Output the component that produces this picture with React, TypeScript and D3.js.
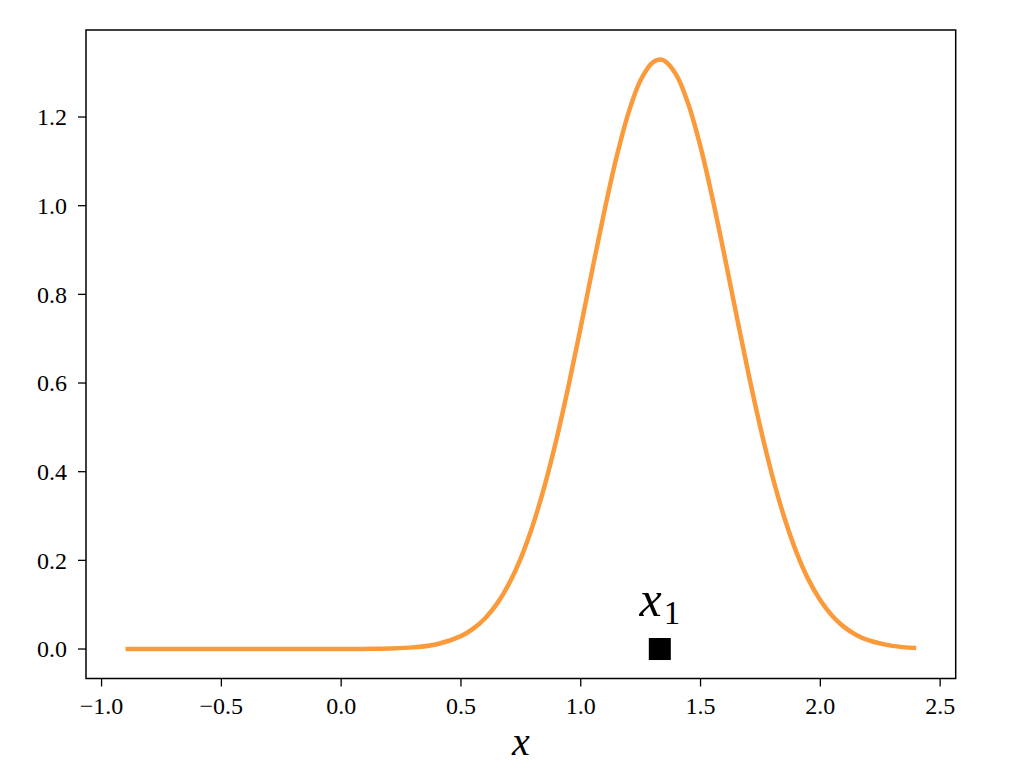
import React from "react";
import * as d3 from "d3";

const xValues = [
  -0.9, -0.8, -0.7, -0.6, -0.5, -0.4, -0.3, -0.2, -0.1, 0.0, 0.1, 0.2, 0.3, 0.4, 0.5, 0.55,
  0.6, 0.65, 0.7, 0.75, 0.8, 0.85, 0.9, 0.95, 1.0, 1.05, 1.1, 1.15, 1.2, 1.25, 1.3, 1.33,
  1.35, 1.4, 1.45, 1.5, 1.55, 1.6, 1.65, 1.7, 1.75, 1.8, 1.85, 1.9, 1.95, 2.0, 2.05, 2.1,
  2.15, 2.2, 2.3, 2.4,
];
const yValues = [
  0, 0, 0, 0, 0, 0, 0, 0, 0, 0.0001, 0.0003, 0.0011, 0.0037, 0.0109, 0.029, 0.0453,
  0.0689, 0.1019, 0.1467, 0.2052, 0.2793, 0.3697, 0.4761, 0.5962, 0.7262, 0.8602, 0.9912, 1.1108, 1.2106, 1.2834, 1.3232, 1.3298,
  1.3269, 1.2941, 1.2276, 1.1326, 1.0162, 0.887, 0.7528, 0.6215, 0.4991, 0.3898, 0.2961, 0.2187, 0.1571, 0.1098, 0.0746, 0.0494,
  0.0317, 0.0198, 0.0071, 0.0023,
];
const markerX = [1.33];
const markerY = [0];
const markerLabel = "x";
const markerSub = "1";
const xTicks = [-1.0, -0.5, 0.0, 0.5, 1.0, 1.5, 2.0, 2.5];
const yTicks = [0.0, 0.2, 0.4, 0.6, 0.8, 1.0, 1.2];
const xLabel = "x";

const W = 1024;
const H = 778;
const L = 86, R = 955.7, T = 30, B = 678.5;
const FONT = "'Liberation Serif', 'DejaVu Serif', serif";
const ORANGE = "#fb9a3b";

const fmt = (v: number) => {
  const s = Math.abs(v).toFixed(1);
  return v < 0 ? "\u2212" + s : s;
};

export default function App() {
  const x = d3.scaleLinear().domain([-1.065, 2.565]).range([L, R]);
  const y = d3.scaleLinear().domain([-0.0665, 1.3963]).range([B, T]);
  const pts: [number, number][] = xValues.map((v, i) => [v, yValues[i]]);
  const line = d3
    .line<[number, number]>()
    .x((d) => x(d[0]))
    .y((d) => y(d[1]))
    .curve(d3.curveCatmullRom.alpha(0.5));
  const ms = 22;
  return (
    <svg
      width={W}
      height={H}
      style={{ position: "absolute", left: 0, top: 0, background: "#fff" }}
      fontFamily={FONT}
    >
      <rect x={0} y={0} width={W} height={H} fill="#fff" />
      <path d={line(pts) || ""} fill="none" stroke={ORANGE} strokeWidth={4.5} />
      {markerX.map((mx, i) => (
        <g key={i}>
          <rect
            x={x(mx) - ms / 2}
            y={y(markerY[i]) - ms / 2}
            width={ms}
            height={ms}
            fill="#000"
          />
          <text x={x(mx)} y={616} textAnchor="middle" fill="#000">
            <tspan fontStyle="italic" fontSize={50}>{markerLabel}</tspan>
            <tspan fontSize={33} dy={8} dx={2}>{markerSub}</tspan>
          </text>
        </g>
      ))}
      <rect x={L} y={T} width={R - L} height={B - T} fill="none" stroke="#000" strokeWidth={1.5} />
      {xTicks.map((t) => (
        <g key={"x" + t}>
          <line x1={x(t)} x2={x(t)} y1={B} y2={B + 8} stroke="#000" strokeWidth={1.3} />
          <text x={x(t)} y={714} textAnchor="middle" fontSize={24} fill="#000">
            {fmt(t)}
          </text>
        </g>
      ))}
      {yTicks.map((t) => (
        <g key={"y" + t}>
          <line x1={L - 8} x2={L} y1={y(t)} y2={y(t)} stroke="#000" strokeWidth={1.3} />
          <text x={67} y={y(t)} dy="0.35em" textAnchor="end" fontSize={24} fill="#000">
            {fmt(t)}
          </text>
        </g>
      ))}
      <text x={(L + R) / 2} y={755} textAnchor="middle" fontStyle="italic" fontSize={40} fill="#000">
        {xLabel}
      </text>
    </svg>
  );
}
